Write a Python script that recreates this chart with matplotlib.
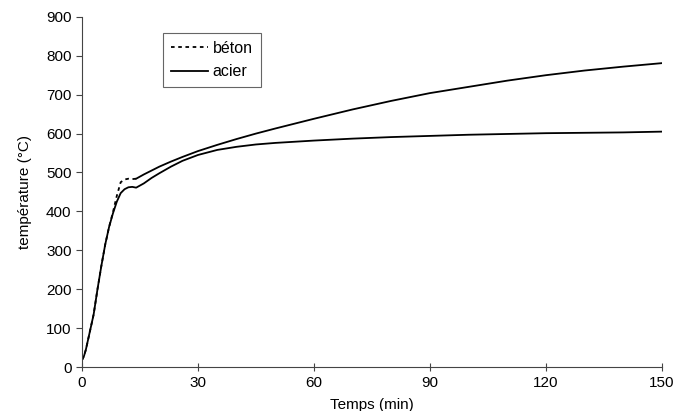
import matplotlib.pyplot as plt
import numpy as np

plt.rcParams['font.family'] = ['Liberation Sans', 'DejaVu Sans']
plt.rcParams['font.size'] = 11

# time (min)
t = [0, 0.5, 1, 2, 3, 4, 5, 6, 7, 8, 9, 10, 11, 12, 13, 14, 16, 18, 20, 23, 26, 30,
     35, 40, 45, 50, 60, 70, 80, 90, 100, 110, 120, 130, 140, 150]

# temperatures (°C)
acier = [18, 28, 45, 90, 135, 200, 260, 315, 360, 395, 425, 447, 457, 462, 463, 461,
         472, 486, 498, 515, 530, 545, 558, 566, 572, 576, 582, 587, 591, 594, 597, 599,
         601, 602, 603, 605]
beton = [18, 28, 45, 90, 135, 200, 260, 315, 360, 398, 440, 475, 482, 484, 483, 484,
         495, 505, 515, 528, 540, 555, 571, 586, 600, 613, 638, 662, 684, 704, 720, 736,
         750, 762, 772, 781]

split = t.index(14)

fig = plt.figure(figsize=(6.78, 4.11), dpi=100)
ax = fig.add_axes([0.121, 0.107, 0.855, 0.852])

lw = 1.3
ax.plot(t[:split + 1], beton[:split + 1], color='black', lw=lw,
        linestyle=(0, (2, 2)), label='béton')
ax.plot(t[split:], beton[split:], color='black', lw=lw)
ax.plot(t, acier, color='black', lw=lw, label='acier')

ax.set_xlim(0, 150)
ax.set_ylim(0, 900)
ax.set_xticks([0, 30, 60, 90, 120, 150])
ax.set_yticks(np.arange(0, 901, 100))

for s in ['top', 'right']:
    ax.spines[s].set_visible(False)
for s in ['left', 'bottom']:
    ax.spines[s].set_color('#444444')
    ax.spines[s].set_linewidth(0.8)

ax.tick_params(axis='y', direction='out', length=4, width=0.8, color='#444444')
ax.tick_params(axis='x', direction='inout', length=6, width=0.8, color='#444444')

ax.set_xlabel('Temps (min)', labelpad=6)
ax.set_ylabel('température (°C)', labelpad=10)

leg = ax.legend(loc='upper left', bbox_to_anchor=(0.14, 0.955), borderaxespad=0,
                fancybox=False, framealpha=1, edgecolor='#666666',
                handlelength=2.3, handletextpad=0.3, labelspacing=0.55,
                borderpad=0.5, fontsize=11.5)
leg.get_frame().set_linewidth(0.8)

plt.savefig('out.png', dpi=100)
